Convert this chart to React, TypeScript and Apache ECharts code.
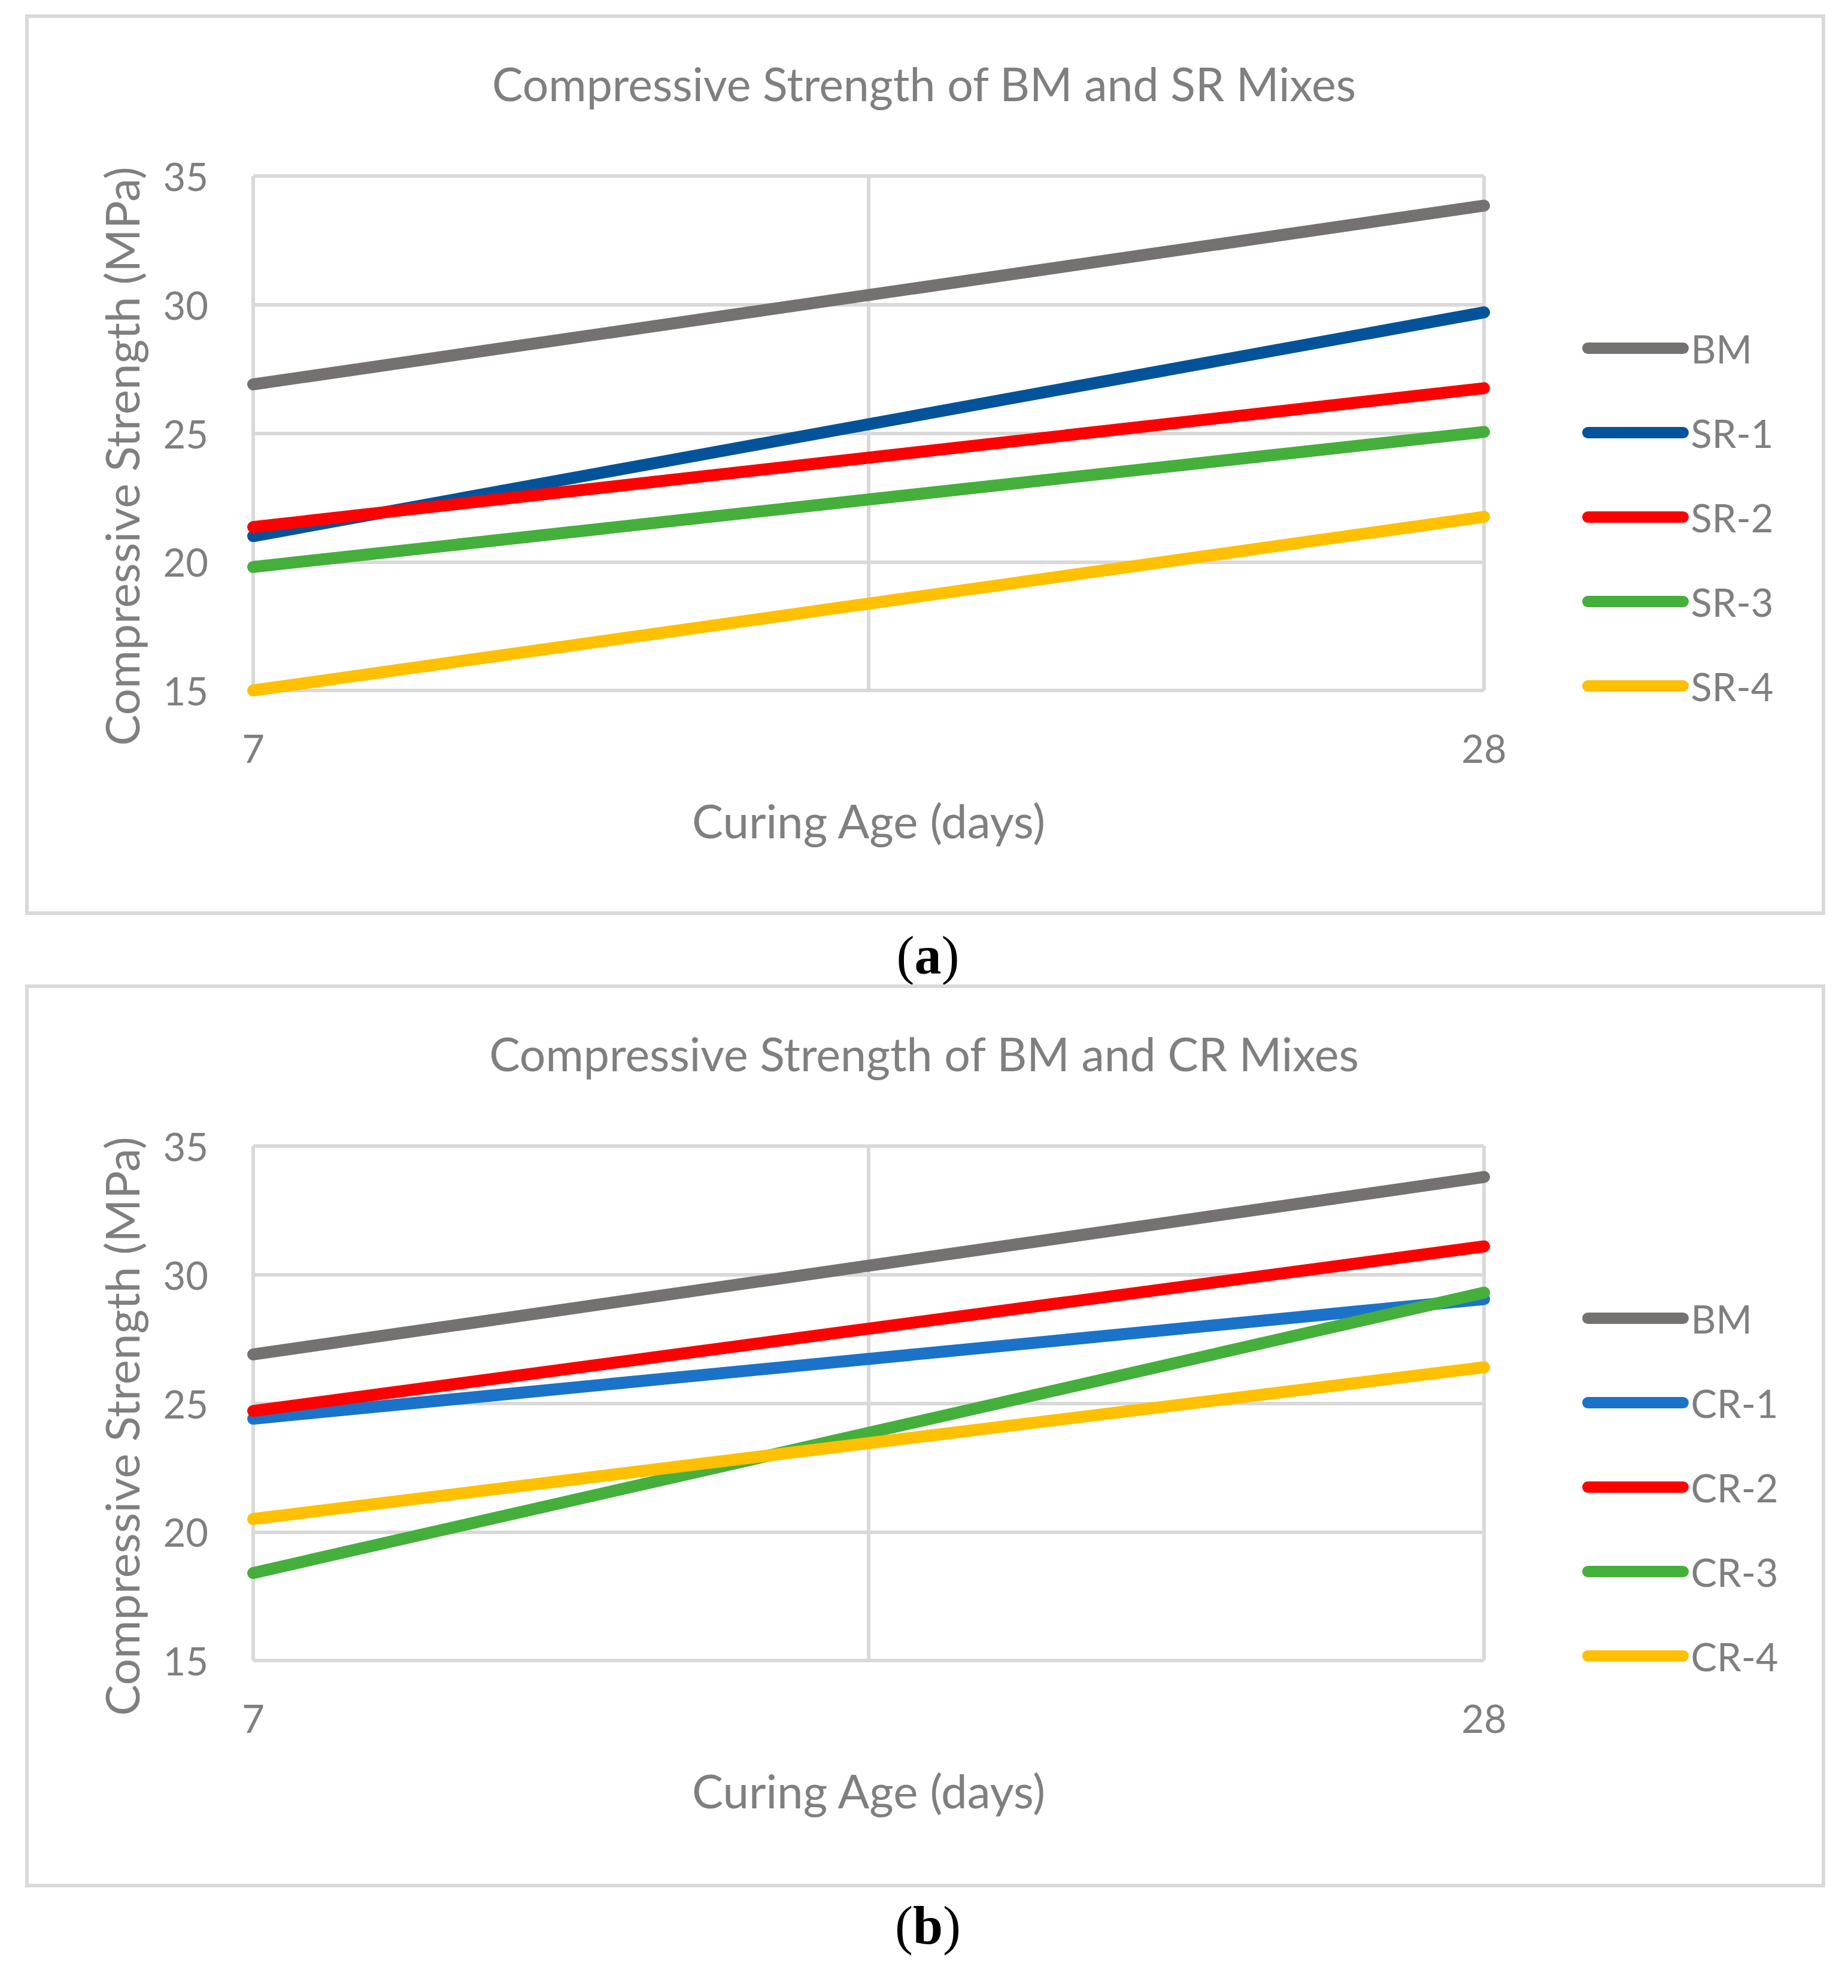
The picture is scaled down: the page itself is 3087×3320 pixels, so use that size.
import React, { useEffect, useRef } from 'react';
import * as echarts from 'echarts';

// curing ages; the blank middle slot only carries the centre gridline
const ages = ['7', '', '28'];
const yTicks = { min: 15, max: 35, step: 5 };

const mixesA = ['BM', 'SR-1', 'SR-2', 'SR-3', 'SR-4'];
const day7A = [26.9, 21.0, 21.35, 19.8, 15.0];
const day28A = [33.85, 29.7, 26.75, 25.05, 21.75];
const colorsA = ['#767171', '#02539A', '#FF0000', '#45AF3B', '#FFC000'];

const mixesB = ['BM', 'CR-1', 'CR-2', 'CR-3', 'CR-4'];
const day7B = [26.9, 24.4, 24.7, 18.4, 20.5];
const day28B = [33.8, 29.05, 31.1, 29.3, 26.4];
const colorsB = ['#767171', '#1A73C9', '#FF0000', '#45AF3B', '#FFC000'];

const titles = ['Compressive Strength of BM and SR Mixes', 'Compressive Strength of BM and CR Mixes'];
const captions = ['a', 'b'];

const TEXT = '#7F7F7F';
const GRID = '#D9D9D9';
const FONT = 'Lato';
const OFFSET = 1620; // vertical distance between the two panels

const App: React.FC = () => {
  const chartRef = useRef<HTMLDivElement>(null);

  useEffect(() => {
    if (!chartRef.current) return;
    const chart = echarts.init(chartRef.current, undefined, { renderer: 'svg' });

    const panels = [
      { mixes: mixesA, d7: day7A, d28: day28A, colors: colorsA },
      { mixes: mixesB, d7: day7B, d28: day28B, colors: colorsB },
    ];

    const grids: any[] = [];
    const xAxes: any[] = [];
    const yAxes: any[] = [];
    const legends: any[] = [];
    const series: any[] = [];
    const graphics: any[] = [];
    const titleOpts: any[] = [];

    panels.forEach((p, i) => {
      const dy = i * OFFSET;
      grids.push({ left: 423, top: 294 + dy, width: 2056, height: 859 });
      xAxes.push({
        type: 'category',
        gridIndex: i,
        data: ages,
        boundaryGap: false,
        axisLine: { show: false },
        axisTick: { show: false },
        axisLabel: { interval: 0, color: TEXT, fontFamily: FONT, fontSize: 65, margin: 63 },
        splitLine: { show: true, lineStyle: { color: GRID, width: 6 } },
        name: 'Curing Age (days)',
        nameLocation: 'middle',
        nameGap: 178,
        nameTextStyle: { color: TEXT, fontFamily: FONT, fontSize: 78 },
      });
      yAxes.push({
        type: 'value',
        gridIndex: i,
        min: yTicks.min,
        max: yTicks.max,
        interval: yTicks.step,
        axisLine: { show: false },
        axisTick: { show: false },
        axisLabel: { color: TEXT, fontFamily: FONT, fontSize: 65, margin: 75 },
        splitLine: { show: true, lineStyle: { color: GRID, width: 6 } },
      });
      legends.push({
        orient: 'vertical',
        left: 2643,
        top: 549 + dy,
        padding: 0,
        itemWidth: 159,
        itemHeight: 19,
        itemGap: 76,
        data: p.mixes,
        formatter: '{t|{name}}',
        lineStyle: { width: 19, cap: 'round' },
        textStyle: {
          color: TEXT,
          fontFamily: FONT,
          fontSize: 65,
          rich: { t: { color: TEXT, fontFamily: FONT, fontSize: 65, padding: [0, 0, 0, 8] } },
        },
        selectedMode: false,
      });
      p.mixes.forEach((name, k) => {
        series.push({
          type: 'line',
          name,
          xAxisIndex: i,
          yAxisIndex: i,
          data: [p.d7[k], null, p.d28[k]],
          connectNulls: true,
          symbol: 'none',
          color: p.colors[k],
          lineStyle: { width: 20, color: p.colors[k], cap: 'round' },
          silent: true,
        });
      });
      titleOpts.push({
        text: titles[i],
        left: 'center',
        top: 100 + dy,
        padding: 0,
        textStyle: { color: TEXT, fontFamily: FONT, fontSize: 77, fontWeight: 'normal' },
      });
      graphics.push({
        type: 'rect',
        shape: { x: 45, y: 27 + dy, width: 3001, height: i === 0 ? 1498 : 1502 },
        style: { fill: 'none', stroke: GRID, lineWidth: 6 },
        silent: true,
      });
      graphics.push({
        type: 'text',
        x: 203,
        y: 762 + dy,
        rotation: Math.PI / 2,
        style: {
          text: 'Compressive Strength (MPa)',
          fill: TEXT,
          font: `78px ${FONT}`,
          align: 'center',
          verticalAlign: 'middle',
        },
        silent: true,
      });
      graphics.push({
        type: 'text',
        x: 1550,
        y: 1595 + dy,
        style: {
          text: `{n|(}{b|${captions[i]}}{n|)}`,
          align: 'center',
          verticalAlign: 'middle',
          rich: {
            n: { fontFamily: 'Liberation Serif', fontSize: 90, fontWeight: 'normal', fill: '#000' },
            b: { fontFamily: 'Liberation Serif', fontSize: 90, fontWeight: 'bold', fill: '#000' },
          },
        },
        silent: true,
      });
    });

    chart.setOption({
      animation: false,
      backgroundColor: '#FFFFFF',
      title: titleOpts,
      grid: grids,
      xAxis: xAxes,
      yAxis: yAxes,
      legend: legends,
      series,
      graphic: graphics,
    });

    return () => {
      chart.dispose();
    };
  }, []);

  return (
    <div
      ref={chartRef}
      style={{ position: 'absolute', left: 0, top: 0, width: '3087px', height: '3320px', background: '#fff' }}
    ></div>
  );
};

export default App;
